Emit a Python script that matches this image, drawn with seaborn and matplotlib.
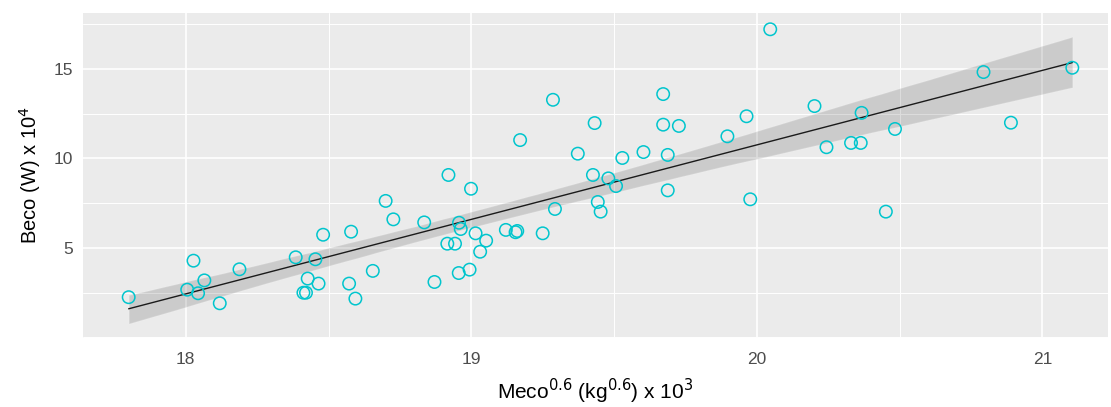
import numpy as np
import pandas as pd
import matplotlib
matplotlib.use("Agg")
import matplotlib.pyplot as plt
from matplotlib.ticker import MultipleLocator
import seaborn as sns

meco = [17.80, 18.027, 18.005, 18.043, 18.065, 18.119, 18.188, 18.385, 18.427, 18.412,
        18.421, 18.454, 18.465, 18.481, 18.579, 18.572, 18.594, 18.655, 18.700, 18.727,
        18.835, 18.920, 18.999, 18.957, 18.963, 19.015, 19.052, 18.916, 18.943, 19.031,
        18.956, 18.994, 18.871, 19.121, 19.155, 19.161, 19.250, 19.171, 19.286, 19.293,
        19.373, 19.432, 19.426, 19.480, 19.507, 19.443, 19.453, 19.529, 19.603, 19.672,
        19.672, 19.727, 19.688, 19.688, 19.897, 19.964, 19.977, 20.047, 20.202, 20.244,
        20.330, 20.364, 20.367, 20.484, 20.452, 20.794, 20.890, 21.105]
beco = [2.25, 4.29, 2.67, 2.47, 3.19, 1.91, 3.81, 4.48, 3.29, 2.50,
        2.50, 4.37, 3.01, 5.74, 5.91, 3.01, 2.17, 3.72, 7.63, 6.60,
        6.43, 9.08, 8.31, 6.41, 6.06, 5.82, 5.41, 5.24, 5.24, 4.79,
        3.60, 3.79, 3.10, 6.01, 5.88, 5.95, 5.82, 11.03, 13.28, 7.18,
        10.27, 11.98, 9.08, 8.89, 8.46, 7.57, 7.03, 10.03, 10.36, 13.60,
        11.89, 11.82, 10.20, 8.22, 11.24, 12.36, 7.72, 17.22, 12.93, 10.63,
        10.87, 10.87, 12.55, 11.65, 7.03, 14.83, 12.00, 15.07]

df = pd.DataFrame({"Meco": meco, "Beco": beco})

sns.set_theme(style="darkgrid")
plt.rcParams.update({
    "axes.facecolor": "#EBEBEB",
    "figure.facecolor": "white",
    "grid.color": "white",
})
plt.rcParams["font.family"] = ["Liberation Sans", "DejaVu Sans"]

fig = plt.figure(figsize=(11.11, 4.07), dpi=100)
ax = fig.add_axes([83 / 1111, 1 - 338 / 407, (1108 - 83) / 1111, (338 - 13) / 407])

sns.regplot(data=df, x="Meco", y="Beco", ax=ax, ci=95, n_boot=2000, seed=1,
            color="black",
            line_kws={"linewidth": 1.0, "color": "#1a1a1a"},
            scatter_kws={"facecolors": "none", "edgecolors": "#00C5CD",
                         "color": "#00C5CD", "s": 80, "linewidths": 1.1, "alpha": 1.0,
                         "zorder": 3})

ax.set_xlim(17.64, 21.23)
ax.set_ylim(-0.03, 18.13)
ax.xaxis.set_major_locator(MultipleLocator(1))
ax.xaxis.set_minor_locator(MultipleLocator(0.5))
ax.yaxis.set_major_locator(MultipleLocator(5))
ax.yaxis.set_minor_locator(MultipleLocator(2.5))
ax.set_yticks([5, 10, 15])
ax.grid(which="major", color="white", linewidth=1.2)
ax.grid(which="minor", color="white", linewidth=0.7)
ax.set_axisbelow(True)
for s in ax.spines.values():
    s.set_visible(False)
ax.tick_params(axis="both", which="major", length=4, width=1, color="#333333",
               labelsize=12.5, labelcolor="#4D4D4D")
ax.tick_params(axis="x", which="major", pad=6)
ax.tick_params(axis="y", which="major", pad=3)
ax.tick_params(axis="both", which="minor", length=0)

ax.set_xlabel("Meco$^{0.6}$ (kg$^{0.6}$) x 10$^{3}$", fontsize=15, color="black", labelpad=7)
ax.set_ylabel("Beco (W) x 10$^{4}$", fontsize=14.5, color="black", labelpad=8)

fig.savefig("out.png", dpi=100)
